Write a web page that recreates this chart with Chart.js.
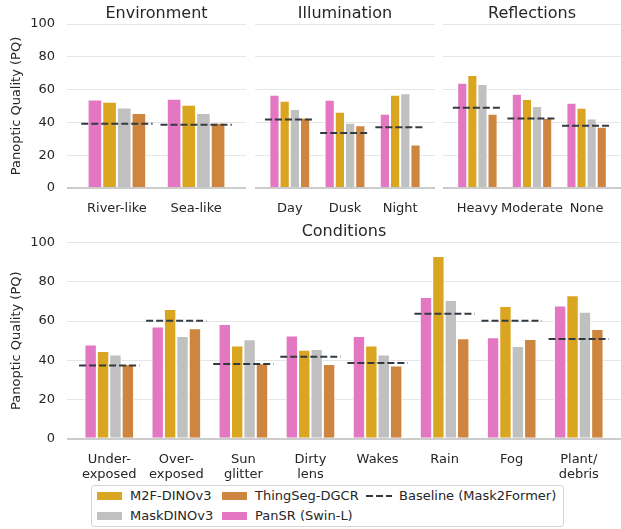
<!DOCTYPE html>
<html>
<head>
<meta charset="utf-8">
<script src="https://cdn.jsdelivr.net/npm/chart.js@4.4.1/dist/chart.umd.min.js"></script>
<style>
  body { margin: 0; background: #fff; font-family: "DejaVu Sans", sans-serif; }
  #wrap { position: relative; width: 621px; height: 529px; overflow: hidden; }
  canvas { position: absolute; }
  #legend { position: absolute; left: 91px; top: 485px; width: 473px; height: 42px;
            box-sizing: border-box; border: 1px solid #d4d4d4; border-radius: 3px; background: #fff; }
  .sw { position: absolute; width: 25px; height: 8px; }
  .dash { position: absolute; width: 26px; height: 2px;
          background: repeating-linear-gradient(90deg, #333b42 0 7px, transparent 7px 10px); }
  .lt { position: absolute; font-size: 13px; line-height: 16px; color: #262626; white-space: nowrap; }
</style>
</head>
<body>
<div id="wrap">
  <canvas id="env" width="250" height="220" style="left:0;top:0"></canvas>
  <canvas id="illum" width="180" height="220" style="left:255px;top:0"></canvas>
  <canvas id="refl" width="178" height="220" style="left:443px;top:0"></canvas>
  <canvas id="cond" width="621" height="270" style="left:0;top:218px"></canvas>
  <div id="legend"></div>
</div>
<script>
// series order in every group
var seriesNames = ['PanSR (Swin-L)', 'M2F-DINOv3', 'MaskDINOv3', 'ThingSeg-DGCR'];
var seriesColors = ['#e377c2', '#daa520', '#c0c0c0', '#cd853f'];
var yTicks = [0, 20, 40, 60, 80, 100];

// Environment
var envLabels = ['River-like', 'Sea-like'];
var envPanSR = [54.0, 54.4];
var envM2F = [52.6, 50.8];
var envMaskDINO = [49.1, 45.7];
var envThingSeg = [45.7, 39.8];
var envBaseline = [39.2, 38.6];

// Illumination
var illumLabels = ['Day', 'Dusk', 'Night'];
var illumPanSR = [56.9, 53.8, 45.3];
var illumM2F = [53.2, 46.5, 56.9];
var illumMaskDINO = [48.2, 39.8, 57.7];
var illumThingSeg = [42.9, 38.2, 26.6];
var illumBaseline = [41.8, 33.5, 37.0];

// Reflections
var reflLabels = ['Heavy', 'Moderate', 'None'];
var reflPanSR = [64.2, 57.5, 52.0];
var reflM2F = [68.9, 54.3, 49.0];
var reflMaskDINO = [63.4, 50.0, 42.4];
var reflThingSeg = [45.3, 42.7, 37.4];
var reflBaseline = [49.0, 42.4, 38.0];

// Conditions
var condLabels = [['Under-', 'exposed'], ['Over-', 'exposed'], ['Sun', 'glitter'], ['Dirty', 'lens'],
                  'Wakes', 'Rain', 'Fog', ['Plant/', 'debris']];
var condPanSR = [48.0, 57.3, 58.5, 52.7, 52.4, 72.3, 51.7, 67.9];
var condM2F = [44.7, 66.2, 47.6, 45.4, 47.6, 93.2, 67.7, 73.2];
var condMaskDINO = [42.9, 52.4, 50.7, 45.8, 42.9, 70.8, 47.3, 64.8];
var condThingSeg = [38.1, 56.3, 38.5, 38.1, 37.4, 51.2, 50.9, 56.0];
var condBaseline = [37.4, 60.2, 38.1, 41.8, 38.6, 63.8, 60.2, 50.9];

var textColor = '#262626';

// dashed baseline per category, drawn through the chart scales
var baselinePlugin = {
  id: 'baseline',
  afterDatasetsDraw: function(chart, args, opts) {
    var x = chart.scales.x, y = chart.scales.y, ctx = chart.ctx;
    var half = (x.getPixelForValue(1) - x.getPixelForValue(0)) * 0.45;
    ctx.save();
    ctx.strokeStyle = '#333b42';
    ctx.lineWidth = 2;
    ctx.setLineDash([7, 3]);
    opts.values.forEach(function(v, i) {
      var px = x.getPixelForValue(i), py = y.getPixelForValue(v);
      ctx.beginPath();
      ctx.moveTo(px - half, py);
      ctx.lineTo(px + half, py);
      ctx.stroke();
    });
    ctx.restore();
  }
};

// panel title centred over the plot area (not the whole canvas)
var panelTitlePlugin = {
  id: 'panelTitle',
  afterDraw: function(chart, args, opts) {
    var ctx = chart.ctx, a = chart.chartArea;
    ctx.save();
    ctx.font = '16px "DejaVu Sans"';
    ctx.fillStyle = textColor;
    ctx.textAlign = 'center';
    ctx.textBaseline = 'alphabetic';
    ctx.fillText(opts.text, (a.left + a.right) / 2, 17.5);
    ctx.restore();
  }
};

function makePanel(id, p) {
  var n = p.labels.length;
  var datasets = p.values.map(function(vals, k) {
    return {
      label: seriesNames[k],
      data: vals.map(function(v, i) { return { x: i, y: v }; }),
      backgroundColor: seriesColors[k],
      borderColor: 'rgba(255,255,255,0.9)',
      borderWidth: 1,
      borderSkipped: 'start',
      categoryPercentage: 0.74,
      barPercentage: 1.0
    };
  });
  return new Chart(document.getElementById(id), {
    type: 'bar',
    data: { datasets: datasets },
    plugins: [baselinePlugin, panelTitlePlugin],
    options: {
      responsive: false,
      animation: false,
      events: [],
      layout: { padding: { left: 0, right: p.padRight, top: p.top, bottom: 0 } },
      plugins: {
        legend: { display: false },
        tooltip: { enabled: false },
        title: { display: false },
        panelTitle: { text: p.title },
        baseline: { values: p.baseline }
      },
      scales: {
        x: {
          type: 'linear', offset: false,
          min: -0.63, max: n - 1 + 0.63,
          grid: { display: false },
          border: { display: false },
          afterBuildTicks: function(s) { s.ticks = p.labels.map(function(_, i) { return { value: i }; }); },
          afterFit: function(s) { s.height = p.xHeight; s.paddingLeft = 0; s.paddingRight = 0; },
          ticks: {
            autoSkip: false, maxRotation: 0, padding: 5, color: textColor,
            font: { family: 'DejaVu Sans', size: 13 },
            callback: function(v, i) { return p.labels[i]; }
          }
        },
        y: {
          min: 0, max: 100,
          border: { display: false },
          afterBuildTicks: function(s) { s.ticks = yTicks.map(function(v) { return { value: v }; }); },
          afterFit: function(s) { s.width = p.showY ? 67 : 0; },
          grid: {
            drawTicks: false,
            color: function(c) { return c.tick.value === 0 ? '#cccccc' : '#e6e6e6'; },
            lineWidth: function(c) { return c.tick.value === 0 ? 2 : 1; }
          },
          ticks: {
            display: p.showY, padding: 12, color: textColor,
            font: { family: 'DejaVu Sans', size: 13 }
          },
          title: {
            display: p.showY, text: 'Panoptic Quality (PQ)', color: textColor,
            font: { family: 'DejaVu Sans', size: 13 },
            padding: { top: 9, bottom: 0 }
          }
        }
      }
    }
  });
}

makePanel('env', { title: 'Environment', labels: envLabels, showY: true, padRight: 4, top: 24, xHeight: 32,
  values: [envPanSR, envM2F, envMaskDINO, envThingSeg], baseline: envBaseline });
makePanel('illum', { title: 'Illumination', labels: illumLabels, showY: false, padRight: 0, top: 24, xHeight: 32,
  values: [illumPanSR, illumM2F, illumMaskDINO, illumThingSeg], baseline: illumBaseline });
makePanel('refl', { title: 'Reflections', labels: reflLabels, showY: false, padRight: 0, top: 24, xHeight: 32,
  values: [reflPanSR, reflM2F, reflMaskDINO, reflThingSeg], baseline: reflBaseline });
makePanel('cond', { title: 'Conditions', labels: condLabels, showY: true, padRight: 0, top: 24.7, xHeight: 49.3,
  values: [condPanSR, condM2F, condMaskDINO, condThingSeg], baseline: condBaseline });

// legend, laid out in columns like the original
var legendItems = [
  { name: seriesNames[1], color: seriesColors[1], x: 5, row: 0 },
  { name: seriesNames[2], color: seriesColors[2], x: 5, row: 1 },
  { name: seriesNames[3], color: seriesColors[3], x: 130, row: 0 },
  { name: seriesNames[0], color: seriesColors[0], x: 130, row: 1 },
  { name: 'Baseline (Mask2Former)', dash: true, x: 274, row: 0 }
];
var legend = document.getElementById('legend');
legendItems.forEach(function(it) {
  var cy = it.row === 0 ? 10 : 30;
  var sw = document.createElement('div');
  if (it.dash) {
    sw.className = 'dash';
    sw.style.top = (cy - 1) + 'px';
  } else {
    sw.className = 'sw';
    sw.style.background = it.color;
    sw.style.top = (cy - 4) + 'px';
  }
  sw.style.left = it.x + 'px';
  legend.appendChild(sw);
  var t = document.createElement('span');
  t.className = 'lt';
  t.textContent = it.name;
  t.style.left = (it.x + 33) + 'px';
  t.style.top = (cy - 8) + 'px';
  legend.appendChild(t);
});
</script>
</body>
</html>
